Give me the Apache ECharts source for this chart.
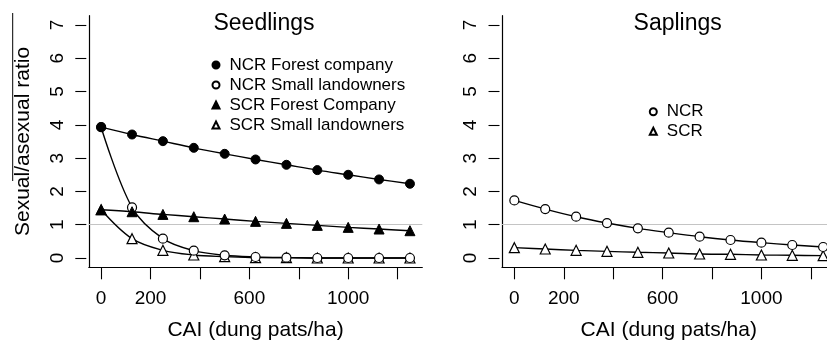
<!DOCTYPE html>
<html>
<head>
<meta charset="utf-8">
<script src="https://cdn.jsdelivr.net/npm/echarts@6/dist/echarts.min.js"></script>
<style>
  html, body { margin: 0; padding: 0; background: #fff; }
  #chart { width: 827px; height: 341px; }
</style>
</head>
<body>
<div id="chart"></div>
<script>
// ---- data ----
var cai = [0, 125, 250, 375, 500, 625, 750, 875, 1000, 1125, 1250];
// Seedlings
var ncrForest = [3.93, 3.71, 3.51, 3.31, 3.13, 2.96, 2.80, 2.64, 2.50, 2.36, 2.23];
var ncrSmall  = [3.93, 1.52, 0.58, 0.22, 0.08, 0.03, 0.01, 0.00, 0.00, 0.00, 0.00];
var scrForest = [1.45, 1.39, 1.31, 1.24, 1.17, 1.10, 1.04, 0.98, 0.92, 0.87, 0.82];
var scrSmall  = [1.45, 0.58, 0.23, 0.09, 0.04, 0.01, 0.01, 0.00, 0.00, 0.00, 0.00];
// Saplings
var ncrSap = [1.73, 1.47, 1.24, 1.05, 0.89, 0.76, 0.64, 0.54, 0.46, 0.39, 0.33];
var scrSap = [0.31, 0.27, 0.23, 0.20, 0.17, 0.15, 0.12, 0.11, 0.09, 0.08, 0.07];

var xTicks = [0, 200, 400, 600, 800, 1000, 1200];
var xTickLabels = [0, 200, 600, 1000];
var yTicks = [0, 1, 2, 3, 4, 5, 6, 7];
var refLine = 1;

var seedNames = ['NCR Forest company', 'NCR Small landowners', 'SCR Forest Company', 'SCR Small landowners'];
var sapNames = ['NCR', 'SCR'];
var titles = ['Seedlings', 'Saplings'];
var xName = 'CAI (dung pats/ha)';
var yName = 'Sexual/asexual ratio';

function pairs(ys) { return cai.map(function (x, i) { return [x, ys[i]]; }); }

var FONT = "'Liberation Sans', Arial, Helvetica, sans-serif";
var xMin = -50, xMax = 1300, yMin = -0.28, yMax = 7.28;
function plain(v) { return String(v); }

function mainX(gi) {
  return {
    type: 'value', gridIndex: gi, min: xMin, max: xMax, position: 'bottom',
    axisLine: { show: false, onZero: false },
    axisTick: { show: true, length: 12, lineStyle: { color: '#000', width: 1.1 }, customValues: xTicks },
    axisLabel: { show: true, customValues: xTickLabels, formatter: plain, margin: 22, color: '#000', fontSize: 19, fontFamily: FONT },
    splitLine: { show: false },
    name: xName, nameLocation: 'middle', nameGap: 52,
    nameTextStyle: { color: '#000', fontSize: 21, fontFamily: FONT }
  };
}
function boxX(gi) {
  return {
    type: 'value', gridIndex: gi, min: xMin, max: xMax, position: 'bottom',
    axisLine: { show: true, onZero: false, lineStyle: { color: '#000', width: 1.2 } },
    axisTick: { show: false }, axisLabel: { show: false }, splitLine: { show: false }
  };
}
function mainY(gi, showName) {
  var o = {
    type: 'value', gridIndex: gi, min: yMin, max: yMax, position: 'left', offset: 2.5,
    axisLine: { show: false, onZero: false },
    axisTick: { show: true, length: 11, lineStyle: { color: '#000', width: 1.1 }, customValues: yTicks },
    axisLabel: { show: true, customValues: yTicks, formatter: plain, rotate: 90, margin: 19, color: '#000', fontSize: 19, fontFamily: FONT },
    splitLine: { show: false }
  };
  if (showName) {
    o.name = yName; o.nameLocation = 'middle'; o.nameGap = 53;
    o.nameTextStyle = { color: '#000', fontSize: 21, fontFamily: FONT };
  }
  return o;
}
function boxY(gi) {
  return {
    type: 'value', gridIndex: gi, min: yMin, max: yMax, position: 'left',
    axisLine: { show: true, onZero: false, lineStyle: { color: '#000', width: 1.2 } },
    axisTick: { show: false }, axisLabel: { show: false }, splitLine: { show: false }
  };
}

var lineStyle = { color: '#000', width: 1.4 };
function ser(name, data, xi, yi, symbol, filled, size) {
  return {
    name: name, type: 'line', xAxisIndex: xi, yAxisIndex: yi,
    data: pairs(data), smooth: 0.35,
    symbol: symbol, symbolSize: size, showSymbol: true,
    lineStyle: lineStyle,
    itemStyle: filled ? { color: '#000', borderColor: '#000', borderWidth: 1 }
                      : { color: '#fff', borderColor: '#000', borderWidth: 1.2 },
    emphasis: { disabled: true },
    animation: false, z: 3
  };
}
function ref(xi, yi) {
  return {
    type: 'line', xAxisIndex: xi, yAxisIndex: yi, data: [], silent: true, z: 1,
    markLine: {
      silent: true, symbol: 'none', animation: false, z: 1,
      label: { show: false },
      lineStyle: { color: '#c4c4c4', width: 1.2, type: 'solid' },
      data: [{ yAxis: refLine }]
    }
  };
}

var legendText = { color: '#000', fontSize: 17, fontFamily: FONT, lineHeight: 17, padding: [0, 0, 0, 5] };

var chart = echarts.init(document.getElementById('chart'), null, { renderer: 'canvas' });
chart.setOption({
  animation: false,
  backgroundColor: '#fff',
  textStyle: { fontFamily: FONT },
  grid: [
    { left: 88.8, top: 15.7, width: 333.5, height: 251.6, containLabel: false, outerBoundsMode: 'none' },
    { left: 502, top: 15.7, width: 333.5, height: 251.6, containLabel: false, outerBoundsMode: 'none' }
  ],
  xAxis: [mainX(0), boxX(0), mainX(1), boxX(1)],
  yAxis: [mainY(0, true), boxY(0), mainY(1, false), boxY(1)],
  legend: [
    {
      orient: 'vertical', left: 211.5, top: 56.5, padding: 0, itemWidth: 7, itemHeight: 7, itemGap: 3,
      selectedMode: false, textStyle: legendText,
      data: [
        { name: seedNames[0], icon: 'circle' },
        { name: seedNames[1], icon: 'circle' },
        { name: seedNames[2], icon: 'triangle' },
        { name: seedNames[3], icon: 'triangle' }
      ]
    },
    {
      orient: 'vertical', left: 648.8, top: 103.2, padding: 0, itemWidth: 7, itemHeight: 7, itemGap: 2.5,
      selectedMode: false, textStyle: legendText,
      data: [
        { name: sapNames[0], icon: 'circle' },
        { name: sapNames[1], icon: 'triangle' }
      ]
    }
  ],
  graphic: [
    { type: 'text', x: 264, y: 24, style: { text: titles[0], fontSize: 23, fontFamily: FONT, fill: '#000', align: 'center', verticalAlign: 'middle' }, silent: true },
    { type: 'text', x: 677.7, y: 24, style: { text: titles[1], fontSize: 23, fontFamily: FONT, fill: '#000', align: 'center', verticalAlign: 'middle' }, silent: true },
    { type: 'line', shape: { x1: 12.7, y1: 13, x2: 12.7, y2: 181 }, style: { stroke: '#000', lineWidth: 1 }, silent: true }
  ],
  series: [
    ref(0, 0),
    ser(seedNames[3], scrSmall, 0, 0, 'triangle', false, 10),
    ser(seedNames[1], ncrSmall, 0, 0, 'circle', false, 9),
    ser(seedNames[2], scrForest, 0, 0, 'triangle', true, 10),
    ser(seedNames[0], ncrForest, 0, 0, 'circle', true, 9),
    ref(2, 2),
    ser(sapNames[1], scrSap, 2, 2, 'triangle', false, 10),
    ser(sapNames[0], ncrSap, 2, 2, 'circle', false, 9)
  ]
});
</script>
</body>
</html>
